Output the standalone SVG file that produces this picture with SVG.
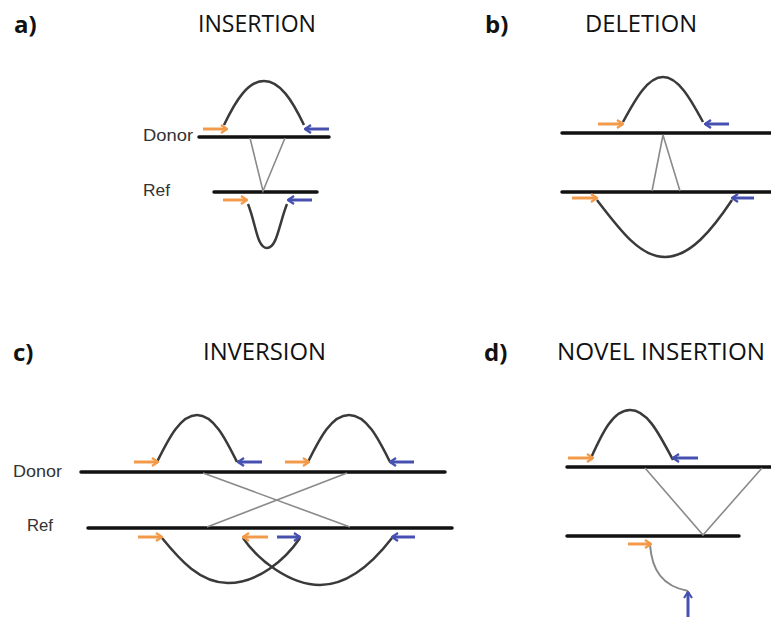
<svg xmlns="http://www.w3.org/2000/svg" width="771" height="617" viewBox="0 0 771 617">
<style>
.title{font-family:"Open Sans","Liberation Sans",sans-serif;font-size:24px;fill:#111}
.tag{font-family:"Open Sans","Liberation Sans",sans-serif;font-size:24px;font-weight:bold;fill:#111}
.lbl{font-family:"Liberation Sans",Arial,sans-serif;font-size:17px;fill:#333}
.dna{stroke:#111;stroke-width:3.5;fill:none;stroke-linecap:round}
.read{stroke:#3a3a3a;stroke-width:2.5;fill:none}
.map{stroke:#8a8a8a;stroke-width:1.6;fill:none}
.ao{stroke:#F29A4A;stroke-width:3;fill:none;marker-end:url(#ho)}
.ab{stroke:#4650B0;stroke-width:3;fill:none;marker-end:url(#hb)}
.seq{stroke:#888;stroke-width:2;fill:none}
</style>
<defs>
<marker id="ho" markerUnits="userSpaceOnUse" viewBox="0 0 10 10" refX="9" refY="5" markerWidth="10" markerHeight="10" orient="auto">
<path d="M3 1 L9 5 L3 9" fill="none" stroke="#F29A4A" stroke-width="2.2"/>
</marker>
<marker id="hb" markerUnits="userSpaceOnUse" viewBox="0 0 10 10" refX="9" refY="5" markerWidth="10" markerHeight="10" orient="auto">
<path d="M3 1 L9 5 L3 9" fill="none" stroke="#4650B0" stroke-width="2.2"/>
</marker>
</defs>
<rect width="771" height="617" fill="#fff"/>

<g id="panel-a">
<text class="tag" x="14" y="33">a)</text>
<text class="title" x="198" y="32" textLength="118" lengthAdjust="spacingAndGlyphs">INSERTION</text>
<text class="lbl" x="143" y="141" textLength="50" lengthAdjust="spacingAndGlyphs">Donor</text>
<text class="lbl" x="143" y="196" textLength="27" lengthAdjust="spacingAndGlyphs">Ref</text>
<line class="dna" x1="199" y1="137" x2="329" y2="137"/>
<line class="dna" x1="214" y1="192" x2="317" y2="192"/>
<path class="map" d="M250 138 L263 191 L285 138"/>
<path class="read" d="M224 125 C236 100 248 81 264 81 C280 81 292 100 304 125"/>
<path class="read" d="M248 204 C256 224 257 248 267 248 C277 248 279 224 287 204"/>
<line class="ao" x1="203" y1="129" x2="227" y2="129"/>
<line class="ab" x1="329" y1="129" x2="305" y2="129"/>
<line class="ao" x1="223" y1="200" x2="247" y2="200"/>
<line class="ab" x1="312" y1="200" x2="288" y2="200"/>
</g>

<g id="panel-b">
<text class="tag" x="485" y="33">b)</text>
<text class="title" x="585" y="32" textLength="112" lengthAdjust="spacingAndGlyphs">DELETION</text>
<line class="dna" x1="562" y1="133" x2="773" y2="133"/>
<line class="dna" x1="562" y1="192" x2="773" y2="192"/>
<path class="map" d="M652 191 L663 135 L680 191"/>
<path class="read" d="M623 122 C636 98 648 77 663 77 C678 77 690 98 703 122"/>
<path class="read" d="M597 200 C620 230 640 257 665 257 C690 257 712 230 732 200"/>
<line class="ao" x1="598" y1="124" x2="623" y2="124"/>
<line class="ab" x1="729" y1="124" x2="705" y2="124"/>
<line class="ao" x1="572" y1="198" x2="597" y2="198"/>
<line class="ab" x1="754" y1="198" x2="732" y2="198"/>
</g>

<g id="panel-c">
<text class="tag" x="13" y="361">c)</text>
<text class="title" x="203" y="360" textLength="123" lengthAdjust="spacingAndGlyphs">INVERSION</text>
<text class="lbl" x="13" y="477" textLength="49" lengthAdjust="spacingAndGlyphs">Donor</text>
<text class="lbl" x="27" y="531" textLength="26" lengthAdjust="spacingAndGlyphs">Ref</text>
<line class="dna" x1="81" y1="472" x2="445" y2="472"/>
<line class="dna" x1="88" y1="528" x2="452" y2="528"/>
<line class="map" x1="203" y1="473" x2="350" y2="527"/>
<line class="map" x1="347" y1="473" x2="207" y2="527"/>
<path class="read" d="M157 462 C168 440 180 415 197 415 C214 415 226 440 237 462"/>
<path class="read" d="M308 462 C319 440 331 415 349 415 C367 415 379 440 390 462"/>
<path class="read" d="M162 538 C180 560 200 583 228 583 C258 583 285 560 300 538"/>
<path class="read" d="M243 538 C258 560 290 585 320 585 C350 585 375 560 392 538"/>
<line class="ao" x1="134" y1="462" x2="158" y2="462"/>
<line class="ab" x1="262" y1="462" x2="238" y2="462"/>
<line class="ao" x1="285" y1="462" x2="309" y2="462"/>
<line class="ab" x1="414" y1="462" x2="390" y2="462"/>
<line class="ao" x1="138" y1="537" x2="162" y2="537"/>
<line class="ao" x1="268" y1="537" x2="243" y2="537"/>
<line class="ab" x1="277" y1="537" x2="300" y2="537"/>
<line class="ab" x1="415" y1="537" x2="392" y2="537"/>
</g>

<g id="panel-d">
<text class="tag" x="484" y="361">d)</text>
<text class="title" x="557" y="360" textLength="208" lengthAdjust="spacingAndGlyphs">NOVEL INSERTION</text>
<line class="dna" x1="567" y1="467" x2="773" y2="467"/>
<line class="dna" x1="567" y1="536" x2="739" y2="536"/>
<path class="map" d="M645 468 L703 535 L762 468"/>
<path class="read" d="M590 460 C601 436 612 410 630 410 C648 410 660 436 673 460"/>
<path class="seq" d="M650 545 C652 570 662 586 688 591"/>
<line class="ao" x1="628" y1="544" x2="651" y2="544"/>
<line class="ao" x1="568" y1="458" x2="593" y2="458"/>
<line class="ab" x1="698" y1="458" x2="673" y2="458"/>
<line class="ab" x1="688" y1="617" x2="688" y2="592"/>
</g>
</svg>
